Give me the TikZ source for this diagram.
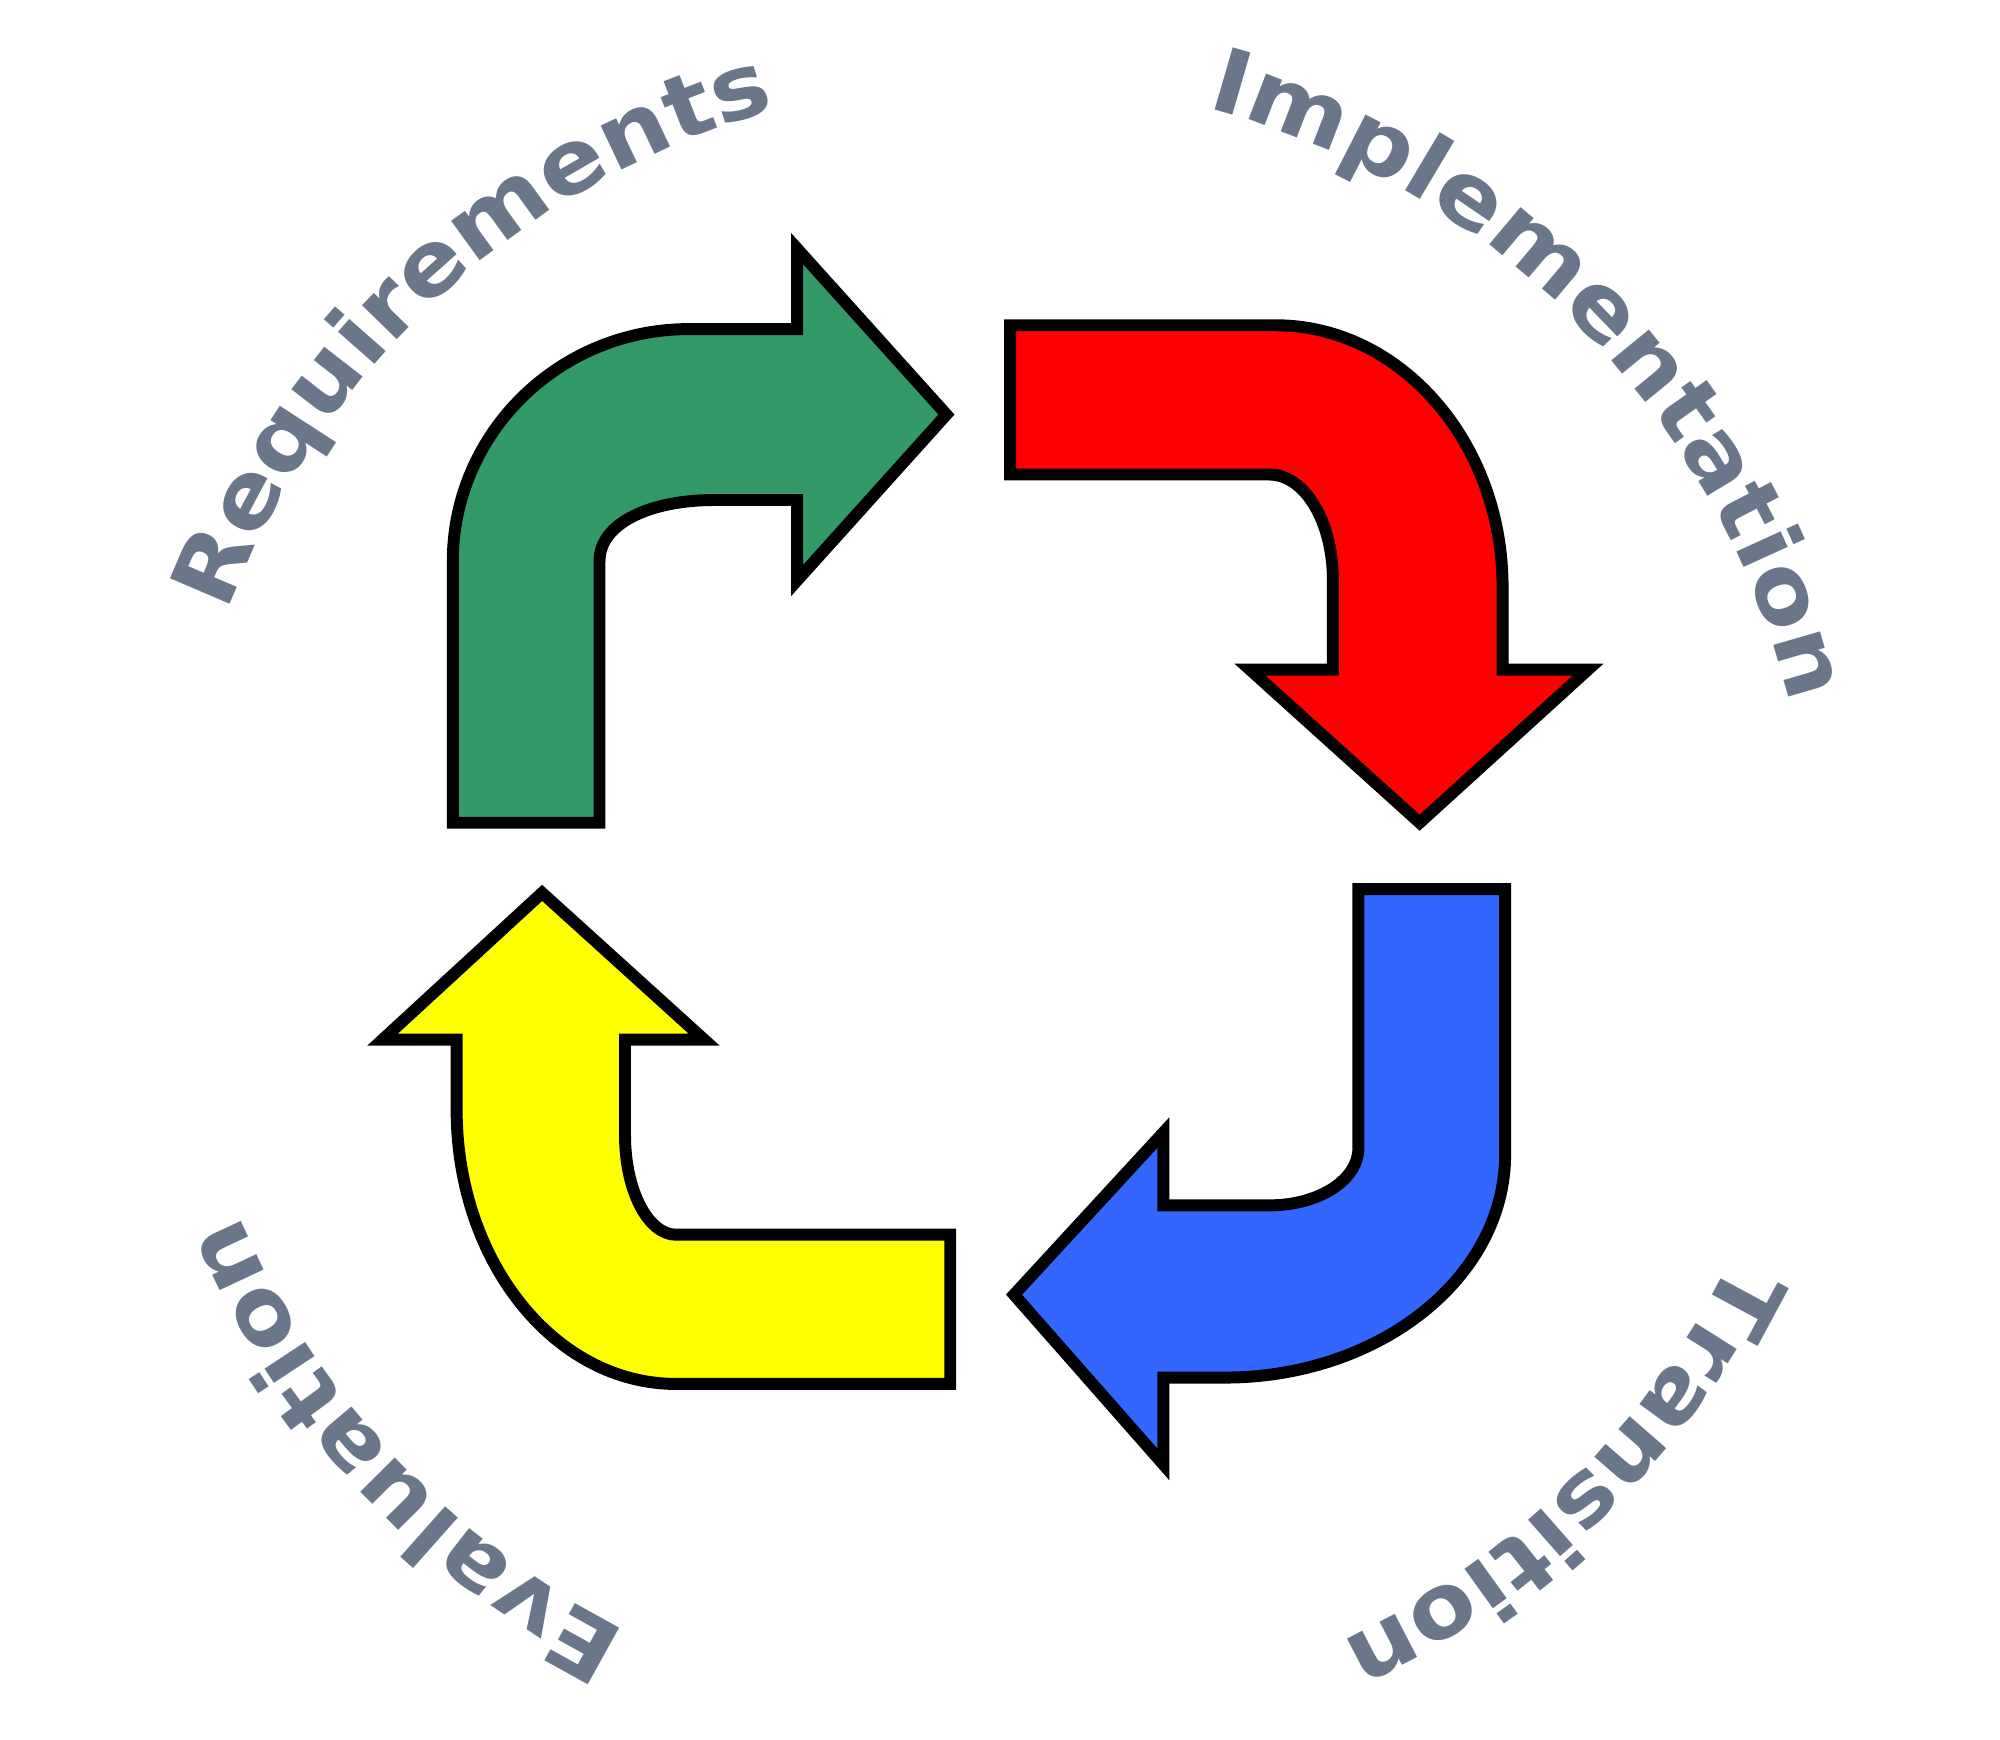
\documentclass[tikz,border=0pt]{standalone}
\usepackage{fontspec}
\newfontfamily\lblfont[FakeStretch=1.1]{DejaVu Sans Bold}
\usetikzlibrary{decorations.text}
\definecolor{arrgreen}{RGB}{51,153,102}
\definecolor{arrred}{RGB}{255,0,0}
\definecolor{arrblue}{RGB}{51,102,255}
\definecolor{arryellow}{RGB}{255,255,0}
\definecolor{txtc}{RGB}{106,118,138}
\tikzset{
  bentarrow/.style={draw=black, line width=3.4pt, line join=miter, miter limit=10},
  arclabel/.style={decorate, decoration={text along path, text align=center,
     text={|\lblfont\fontsize{25.3}{30}\selectfont\color{txtc}|#1}}}
}
\begin{document}
\begin{tikzpicture}[x=0.012755cm, y=-0.012755cm]
\useasboundingbox (0,0) rectangle (1568,1364);
% green arrow (Requirements)
\path[bentarrow, fill=arrgreen]
  (355,645) -- (470,645) -- (470,440)
  .. controls (470,410) and (510,392) .. (560,392)
  -- (625,392) -- (625,455) -- (742,325) -- (625,195) -- (625,258) -- (540,258)
  .. controls (438,258) and (355,340) .. (355,440) -- cycle;
% red arrow (Implementation)
\path[bentarrow, fill=arrred]
  (792,255) -- (1000,255)
  .. controls (1098,255) and (1178,347) .. (1178,460)
  -- (1178,525) -- (1245,525) -- (1113,645) -- (980,525) -- (1045,525) -- (1045,455)
  .. controls (1045,409) and (1023,372) .. (995,372)
  -- (792,372) -- cycle;
% blue arrow (Transition)
\path[bentarrow, fill=arrblue]
  (1065,697) -- (1180,697) -- (1180,905)
  .. controls (1180,1002) and (1081,1080) .. (960,1080)
  -- (912,1080) -- (912,1148) -- (795,1015) -- (912,888) -- (912,945) -- (995,945)
  .. controls (1034,945) and (1065,925) .. (1065,900) -- cycle;
% yellow arrow (Evaluation)
\path[bentarrow, fill=arryellow]
  (745,968) -- (745,1085) -- (530,1085)
  .. controls (435,1085) and (358,989) .. (358,870)
  -- (358,815) -- (300,815) -- (425,700) -- (552,815) -- (490,815) -- (490,890)
  .. controls (490,933) and (508,968) .. (530,968) -- cycle;
% labels along the circle
\begin{scope}[shift={(780,705)}, y=0.012755cm]
  \path[arclabel=Requirements] (177.5:642) arc[start angle=177.5, end angle=87.5, radius=642];
  \path[arclabel=Implementation] (89.4:642) arc[start angle=89.4, end angle=-0.6, radius=642];
  \path[arclabel=Transition] (-0.5:642) arc[start angle=-0.5, end angle=-90.5, radius=642];
  \path[arclabel=Evaluation] (-92:642) arc[start angle=-92, end angle=-182, radius=642];
\end{scope}
\end{tikzpicture}
\end{document}
